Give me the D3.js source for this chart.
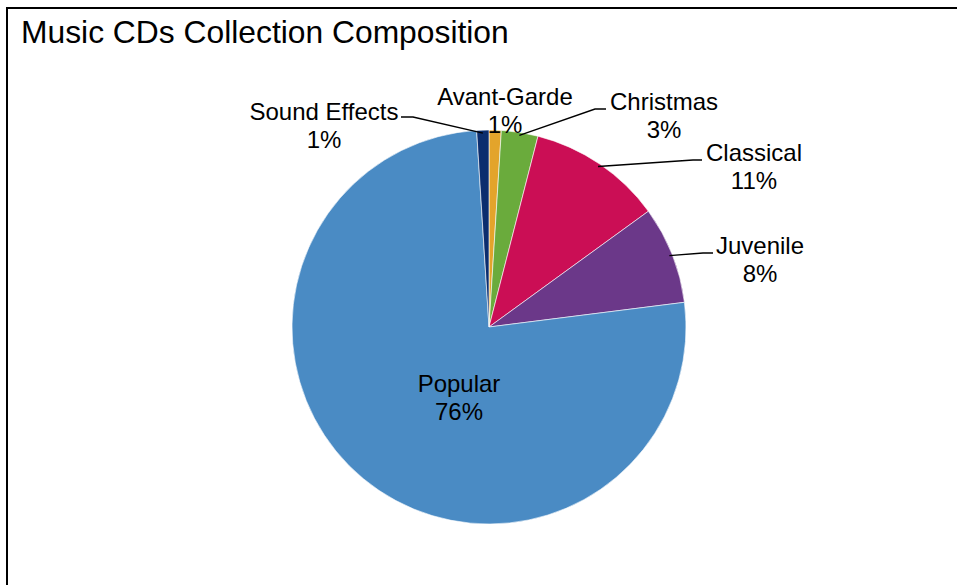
<!DOCTYPE html>
<html>
<head>
<meta charset="utf-8">
<script src="https://cdn.jsdelivr.net/npm/d3@7"></script>
<style>
  html, body { margin: 0; padding: 0; background: #fff; }
  svg { display: block; font-family: "Liberation Sans", Arial, sans-serif; }
</style>
</head>
<body>
<svg id="chart" width="957" height="585"></svg>
<script>
// Collection composition, in percent, clockwise from 12 o'clock
const categories = ["Avant-Garde", "Christmas", "Classical", "Juvenile", "Popular", "Sound Effects"];
const shares = [1, 3, 11, 8, 76, 1];
const colors = ["#E3A42B", "#6AAB3C", "#CB0E55", "#6B3889", "#4A8BC4", "#0B2D6E"];
const title = "Music CDs Collection Composition";

// Label placement: text centre (x), first baseline (y), and leader elbow points
const labelLayout = {
  "Avant-Garde":   { x: 505, y: 105, leader: null },
  "Christmas":     { x: 664, y: 110, leader: [[606, 109], [595, 109]] },
  "Classical":     { x: 754, y: 161, leader: [[702, 160], [693, 160]] },
  "Juvenile":      { x: 760, y: 254, leader: [[713, 253], [703, 253]] },
  "Popular":       { x: 459, y: 392, leader: null },
  "Sound Effects": { x: 324, y: 120, leader: [[401, 117], [413, 117]] }
};

const svg = d3.select("#chart");
const cx = 489, cy = 327, r = 197;
const lineGap = 27.5;

// Outer frame
svg.append("rect")
  .attr("x", 7).attr("y", 8)
  .attr("width", 1200).attr("height", 1000)
  .attr("fill", "none").attr("stroke", "#000").attr("stroke-width", 2);

// Title
svg.append("text")
  .attr("x", 21).attr("y", 43)
  .attr("font-size", 31.8)
  .attr("fill", "#000")
  .text(title);

const data = categories.map((c, i) => ({ name: c, value: shares[i], color: colors[i] }));

const pie = d3.pie().value(d => d.value).sort(null);
const arcs = pie(data);
const arc = d3.arc().innerRadius(0).outerRadius(r);

const g = svg.append("g").attr("transform", `translate(${cx},${cy})`);

g.selectAll("path.slice")
  .data(arcs)
  .join("path")
  .attr("class", "slice")
  .attr("d", arc)
  .attr("fill", d => d.data.color)
  .attr("stroke", "#fff")
  .attr("stroke-width", 0.6);

// Leader lines from slice edge to label
const line = d3.line();
arcs.forEach(a => {
  const lay = labelLayout[a.data.name];
  if (!lay.leader) return;
  const mid = (a.startAngle + a.endAngle) / 2;
  const ex = cx + Math.sin(mid) * (r - 3);
  const ey = cy - Math.cos(mid) * (r - 3);
  const pts = lay.leader.concat([[ex, ey]]);
  svg.append("path")
    .attr("d", line(pts))
    .attr("fill", "none")
    .attr("stroke", "#000")
    .attr("stroke-width", 1.4);
});

// Category and percentage labels
arcs.forEach(a => {
  const lay = labelLayout[a.data.name];
  const t = svg.append("text")
    .attr("text-anchor", "middle")
    .attr("font-size", 24)
    .attr("fill", "#000");
  t.append("tspan").attr("x", lay.x).attr("y", lay.y).text(a.data.name);
  t.append("tspan").attr("x", lay.x).attr("y", lay.y + lineGap).text(d3.format(".0f")(a.data.value) + "%");
});
</script>
</body>
</html>
